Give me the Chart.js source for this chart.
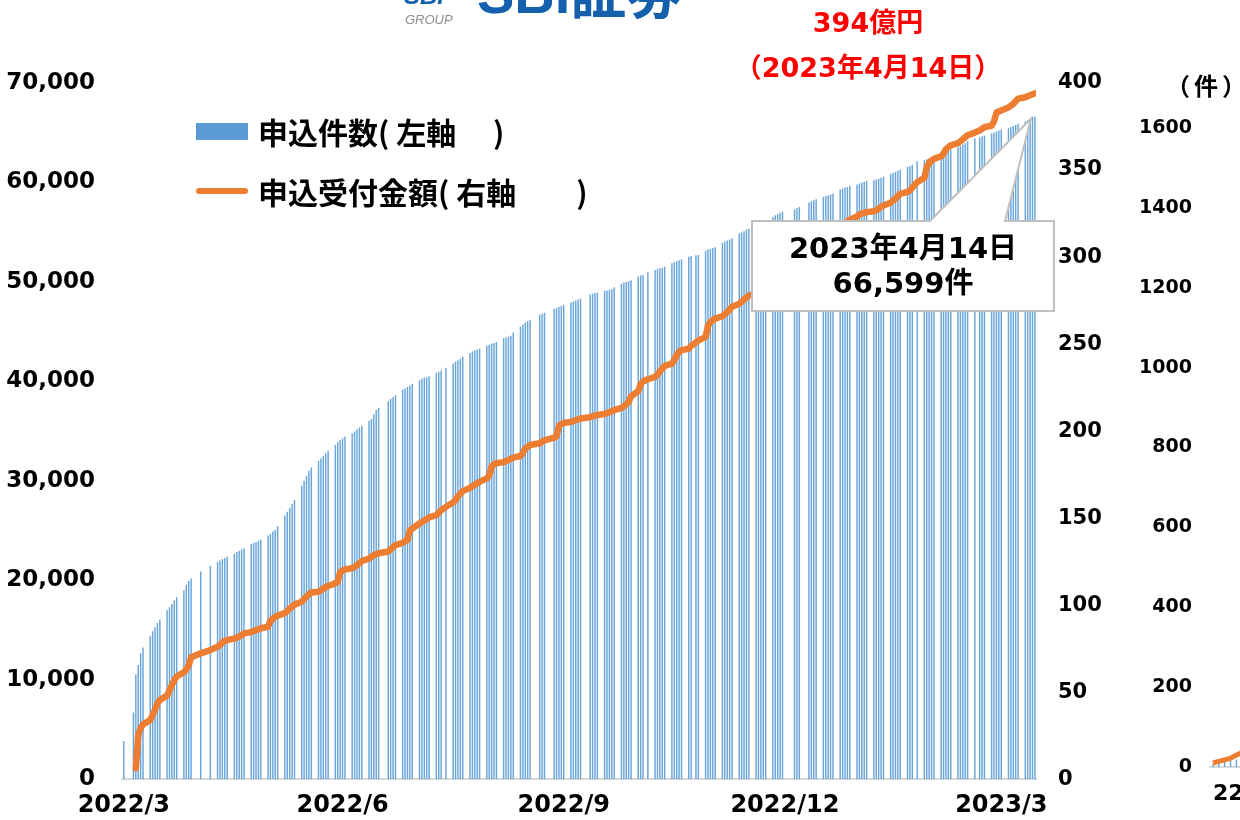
<!DOCTYPE html>
<html lang="ja">
<head>
<meta charset="UTF-8">
<title>申込件数・申込受付金額</title>
<script src="https://cdn.jsdelivr.net/npm/chart.js"></script>
<style>
  html, body { margin: 0; padding: 0; background: #fff; }
  body { width: 1240px; height: 820px; overflow: hidden; position: relative;
         font-family: "DejaVu Sans", "Noto Sans CJK JP", sans-serif; }
  canvas { position: absolute; top: 0; }
  #main { left: 0; }
  #sub { left: 1100px; }
  .t { position: absolute; white-space: nowrap; font-weight: bold; line-height: 1; }
  .red { color: #ff0000; font-size: 27px; width: 400px; text-align: center; left: 668px; }
  .legend { left: 258px; font-family: "Noto Sans CJK JP", sans-serif; font-size: 30px; color: #000; }
  .sw-bar { position: absolute; left: 196px; top: 123px; width: 52px; height: 17px; background: #5B9BD5; }
  .sw-line { position: absolute; left: 196px; top: 188px; width: 52px; height: 6px; border-radius: 3px; background: #ED7D31; }
  .callout { position: absolute; left: 752px; top: 221px; width: 302px; height: 90px;
             display: flex; flex-direction: column; justify-content: center; align-items: center;
             font-size: 29px; line-height: 35px; font-weight: bold; color: #000; }
</style>
</head>
<body>
  <canvas id="main" width="1240" height="820"></canvas>
  <canvas id="sub" width="700" height="820"></canvas>

  <div class="t" style="left:404px; top:-16px; font-family:'Liberation Sans'; font-style:italic; font-size:24px; color:#1560ad;">SBI</div>
  <div class="t" style="left:405px; top:13px; font-family:'Liberation Sans'; font-style:italic; font-weight:normal; font-size:13px; color:#8c8c8c;">GROUP</div>
  <div class="t" style="left:477px; top:-34px; font-family:'Liberation Sans','Noto Sans CJK JP'; font-size:56px; color:#1560ad;">SBI証券</div>

  <div class="t red" style="top:9px;">394億円</div>
  <div class="t red" style="top:54px;">（2023年4月14日）</div>

  <div class="sw-bar"></div>
  <div class="t legend" style="top:116px;">申込件数( 左軸　 )</div>
  <div class="sw-line"></div>
  <div class="t legend" style="top:176px;">申込受付金額( 右軸　　)</div>

  <div class="callout"><div>2023年4月14日</div><div>66,599件</div></div>

  <div class="t" style="left:1166px; top:73px; font-family:'Noto Sans CJK JP'; font-size:24px; letter-spacing:4px;">（件）</div>

<script>
// 営業日カレンダー
const firstDay = '2022-03-31';
const lastDay = '2023-04-14';
const holidays = ['2022-04-29', '2022-05-03', '2022-05-04', '2022-05-05', '2022-07-18',
  '2022-08-11', '2022-09-19', '2022-09-23', '2022-10-10', '2022-11-03', '2022-11-23',
  '2023-01-02', '2023-01-03', '2023-01-09', '2023-02-23', '2023-03-21'];

// 申込件数(累計, 件)
const counts = [
  3800, null,
  6680, 10500, 11450, 12620, 13220,
  14400, 14850, 15250, 15670, 16020,
  16950, 17250, 17590, 17960, 18260,
  18960, 19530, 19900, 20160,
  20860, 21430,
  21800, 21960, 22100, 22200, 22360,
  22630, 22800, 22930, 23060, 23200,
  23600, 23730, 23800, 23930, 24060,
  24460, 24630, 24860, 25030, 25400,
  26470, 26870, 27270, 27640, 28040,
  29470, 29970, 30470, 30970, 31310,
  31970, 32210, 32480, 32750, 32980,
  33580, 33880, 34080, 34220, 34420,
  34750, 34920, 35150, 35320, 35480,
  35980, 36220, 36650, 37080, 37320,
  37980, 38220, 38380, 38580,
  39150, 39280, 39420, 39550, 39720,
  40090, 40230, 40330, 40390, 40490,
  40830, 40930, 41060, 41330,
  41760, 41960, 42090, 42230, 42430,
  42830, 42960, 43090, 43160, 43260,
  43560, 43660, 43760, 43820, 43930,
  44290, 44390, 44490, 44560, 44890,
  45490, 45690, 45890, 46030, 46160,
  46670, 46770, 46870,
  47240, 47340, 47440, 47540, 47670,
  47900, 48000, 48100, 48200, 48300,
  48700, 48770, 48840, 48900,
  49070, 49100, 49170, 49240, 49440,
  49770, 49900, 49970, 50040, 50140,
  50500, 50600, 50670, 50940,
  51170, 51270, 51340, 51400, 51500,
  51840, 51940, 52040, 52140, 52240,
  52500, 52570, 52640, 52670,
  53100, 53240, 53310, 53370, 53440,
  53900, 54040, 54140, 54240, 54340,
  54840, 54940, 55070, 55240, 55340,
  55700, 55850, 56000, 56100, 56200,
  56500, 56680, 56780, 56910, 57010,
  57250, 57410, 57510,
  57950, 58080, 58180, 58280,
  58510, 58610, 58680, 58750, 58850,
  59250, 59350, 59450, 59510, 59610,
  59750, 59850, 59950, 60050, 60110,
  60180, 60280, 60350, 60450, 60550,
  60850, 60950, 61050, 61150, 61250,
  61520, 61620, 61720, 62090,
  62190, 62290, 62390, 62460, 62560,
  62790, 62920, 63020, 63160, 63260,
  63520, 63620, 63790, 63920, 64120,
  64390, 64490, 64590, 64690,
  64900, 65000, 65100, 65200, 65290,
  65440, 65540, 65640, 65740, 65890,
  66090, 66240, 66390, 66540, 66599
];

// 申込受付金額(累計, 億円)
const amounts = [
  null, null,
  null, 6.3, 25.4, 29.3, 31.5,
  34, 36.9, 40, 43.6, 45.5,
  48, 51, 54, 57, 59,
  61.5, 63, 65.5, 70,
  72.3, 74.2,
  76.2, 77, 78.5, 79.5, 80,
  80.8, 81.3, 82, 82.8, 83.8,
  84.5, 85.2, 85.6, 86.2, 86.7,
  87.6, 91, 92.3, 93.2, 94,
  95.4, 96.6, 98, 99.1, 100.3,
  102, 103.5, 105, 106.2, 107.3,
  107.7, 108.5, 109.5, 110.3, 111,
  112.5, 113.5, 119, 119.8, 120.5,
  121.3, 122, 123, 124, 125.3,
  126.8, 127.8, 128.6, 129.3, 129.8,
  130.8, 132, 133.3, 134.5,
  135.8, 136.8, 137.5, 143, 144,
  146.9, 147.8, 148.6, 149.4, 150.5,
  151.7, 153, 154.5, 156.5,
  159, 160.5, 162.5, 164, 165.5,
  167.4, 168.3, 169.2, 170, 170.8,
  172.8, 174.5, 179.5, 181, 181.5,
  182.2, 182.8, 183.3, 184, 184.8,
  185.7, 187.5, 190, 191, 192,
  193, 194, 194.7,
  196.3, 197, 203, 204, 204.7,
  205.3, 205.8, 206.3, 206.8, 207.2,
  208, 208.5, 208.9, 209.3,
  209.8, 210.3, 210.8, 211.4, 212,
  213.3, 214.3, 215.5, 216.7, 220,
  223, 227, 228.5, 229.8,
  231.1, 232.5, 234.3, 235.9, 237.5,
  238.7, 241, 243.5, 245.6, 246.5,
  247.3, 249, 251, 252.1,
  254, 260.5, 262.5, 263.8, 264.6,
  266, 267.2, 268.4, 269.8, 271.5,
  273.2, 274.4, 275.6, 276.8, 277.9,
  279, 280.5, 282, 283.5, 285,
  286.5, 288, 294, 296, 297.5,
  299, 300.5, 302,
  303.5, 305, 306.5, 308,
  309.5, 311, 312.5, 314, 315.5,
  317, 318.5, 319.5, 320.5, 321.5,
  323.3, 324.5, 325, 325.4, 325.8,
  326.3, 326.8, 327.8, 328.8, 329.6,
  331.2, 332.5, 333.5, 335, 336.3,
  337.5, 338.2, 340, 343,
  345.5, 351.5, 354, 355.5, 356.4,
  357.9, 359.5, 362, 363, 364.2,
  365.4, 366.5, 367.6, 368.8, 370,
  371.5, 372.7, 373.7, 374.6,
  375.5, 378, 383, 383.6, 384.2,
  386, 387, 388, 389.5, 391,
  391.8, 392.4, 393, 393.5, 394
];

// 横軸の目盛(月末)
const tickDates = ['2022-03-31', '2022-06-30', '2022-09-30', '2022-12-31', '2023-03-31'];
const tickLabels = ['2022/3', '2022/6', '2022/9', '2022/12', '2023/3'];

// 右側のグラフ(切れている部分)
const subIdx = [0, 1, 2, 3, 4, 5];
const subCounts = [6, 10, 12, 15, 18, 20];
const subAmounts = [10, 14, 18, 22, 30, 36];
const subTicks = [0];
const subTickLabels = ['22/4'];

const toUTC = s => Date.UTC(+s.slice(0, 4), +s.slice(5, 7) - 1, +s.slice(8, 10));
const dayOf = s => (toUTC(s) - toUTC(firstDay)) / 864e5;

const days = [];
for (let t = toUTC(firstDay); t <= toUTC(lastDay); t += 864e5) {
  const d = new Date(t);
  const s = d.toISOString().slice(0, 10);
  const wd = d.getUTCDay();
  if (wd === 0 || wd === 6 || holidays.includes(s)) continue;
  days.push(s);
}

const countPts = [];
const amountPts = [];
days.forEach((s, i) => {
  if (counts[i] != null) countPts.push({ x: dayOf(s), y: counts[i] });
  if (amounts[i] != null) amountPts.push({ x: dayOf(s), y: amounts[i] });
});
const tickDays = tickDates.map(dayOf);

const tickFont = size => ({ family: '"DejaVu Sans", "Noto Sans CJK JP"', size: size, weight: 'bold' });

// 吹き出し
const callout = {
  id: 'callout',
  afterDatasetsDraw(chart) {
    const { ctx, scales: { x, y } } = chart;
    const last = countPts[countPts.length - 1];
    const tipX = x.getPixelForValue(last.x) - 4;
    const tipY = y.getPixelForValue(last.y) + 2;
    ctx.save();
    ctx.beginPath();
    ctx.moveTo(752, 221);
    ctx.lineTo(930, 221);
    ctx.lineTo(tipX, tipY);
    ctx.lineTo(1005, 221);
    ctx.lineTo(1054, 221);
    ctx.lineTo(1054, 311);
    ctx.lineTo(752, 311);
    ctx.closePath();
    ctx.fillStyle = '#ffffff';
    ctx.fill();
    ctx.strokeStyle = '#bfbfbf';
    ctx.lineWidth = 2;
    ctx.stroke();
    ctx.restore();
  }
};

new Chart(document.getElementById('main'), {
  type: 'bar',
  data: {
    datasets: [
      {
        type: 'line',
        label: '申込受付金額(右軸)',
        data: amountPts,
        yAxisID: 'y1',
        borderColor: '#ED7D31',
        borderWidth: 6.5,
        borderJoinStyle: 'round',
        borderCapStyle: 'round',
        pointRadius: 0,
        tension: 0,
        order: 0
      },
      {
        type: 'bar',
        label: '申込件数(左軸)',
        data: countPts,
        yAxisID: 'y',
        backgroundColor: '#6aa5da',
        barThickness: 0.8,
        order: 1
      }
    ]
  },
  options: {
    responsive: false,
    animation: false,
    layout: { padding: { top: 83, right: 124, left: 0, bottom: 0 } },
    plugins: { legend: { display: false }, tooltip: { enabled: false } },
    scales: {
      x: {
        type: 'linear',
        min: -0.75,
        max: 379.45,
        offset: false,
        grid: { display: false, drawTicks: false },
        border: { display: true, color: '#d9d9d9', width: 2 },
        afterBuildTicks: axis => { axis.ticks = tickDays.map(v => ({ value: v })); },
        afterFit: axis => { axis.height = 39; },
        ticks: {
          autoSkip: false,
          maxRotation: 0,
          padding: 12,
          color: '#000',
          font: tickFont(24),
          callback: v => tickLabels[tickDays.indexOf(v)] ?? ''
        }
      },
      y: {
        position: 'left',
        min: 0,
        max: 70000,
        grid: { display: false, drawTicks: false },
        border: { display: false },
        afterFit: axis => { axis.width = 122; },
        ticks: {
          stepSize: 10000,
          padding: 27,
          color: '#000',
          font: tickFont(23),
          callback: v => v.toLocaleString('en-US')
        }
      },
      y1: {
        position: 'right',
        min: 0,
        max: 400,
        grid: { display: false, drawTicks: false },
        border: { display: false },
        afterFit: axis => { axis.width = 80; },
        ticks: { stepSize: 50, padding: 22, color: '#000', font: tickFont(21) }
      }
    }
  },
  plugins: [callout]
});

new Chart(document.getElementById('sub'), {
  type: 'bar',
  data: {
    datasets: [
      {
        type: 'line',
        data: subIdx.map((x, i) => ({ x: x, y: subAmounts[i] })),
        borderColor: '#ED7D31',
        borderWidth: 5,
        pointRadius: 0,
        order: 0
      },
      {
        type: 'bar',
        data: subIdx.map((x, i) => ({ x: x, y: subCounts[i] })),
        backgroundColor: '#6aa5da',
        barThickness: 0.8,
        order: 1
      }
    ]
  },
  options: {
    responsive: false,
    animation: false,
    layout: { padding: { top: 128, right: 0, left: 0, bottom: 0 } },
    plugins: { legend: { display: false }, tooltip: { enabled: false } },
    scales: {
      x: {
        type: 'linear',
        min: -0.5,
        max: 100,
        offset: false,
        grid: { display: false, drawTicks: false },
        border: { display: true, color: '#d9d9d9', width: 2 },
        afterBuildTicks: axis => { axis.ticks = subTicks.map(v => ({ value: v })); },
        afterFit: axis => { axis.height = 53; },
        ticks: {
          align: 'start',
          padding: 14,
          color: '#000',
          font: tickFont(22),
          callback: v => subTickLabels[subTicks.indexOf(v)] ?? ''
        }
      },
      y: {
        min: 0,
        max: 1600,
        grid: { display: false, drawTicks: false },
        border: { display: false },
        afterFit: axis => { axis.width = 110; },
        ticks: { stepSize: 200, padding: 18, color: '#000', font: tickFont(19), callback: v => String(v) }
      }
    }
  }
});
</script>
</body>
</html>
